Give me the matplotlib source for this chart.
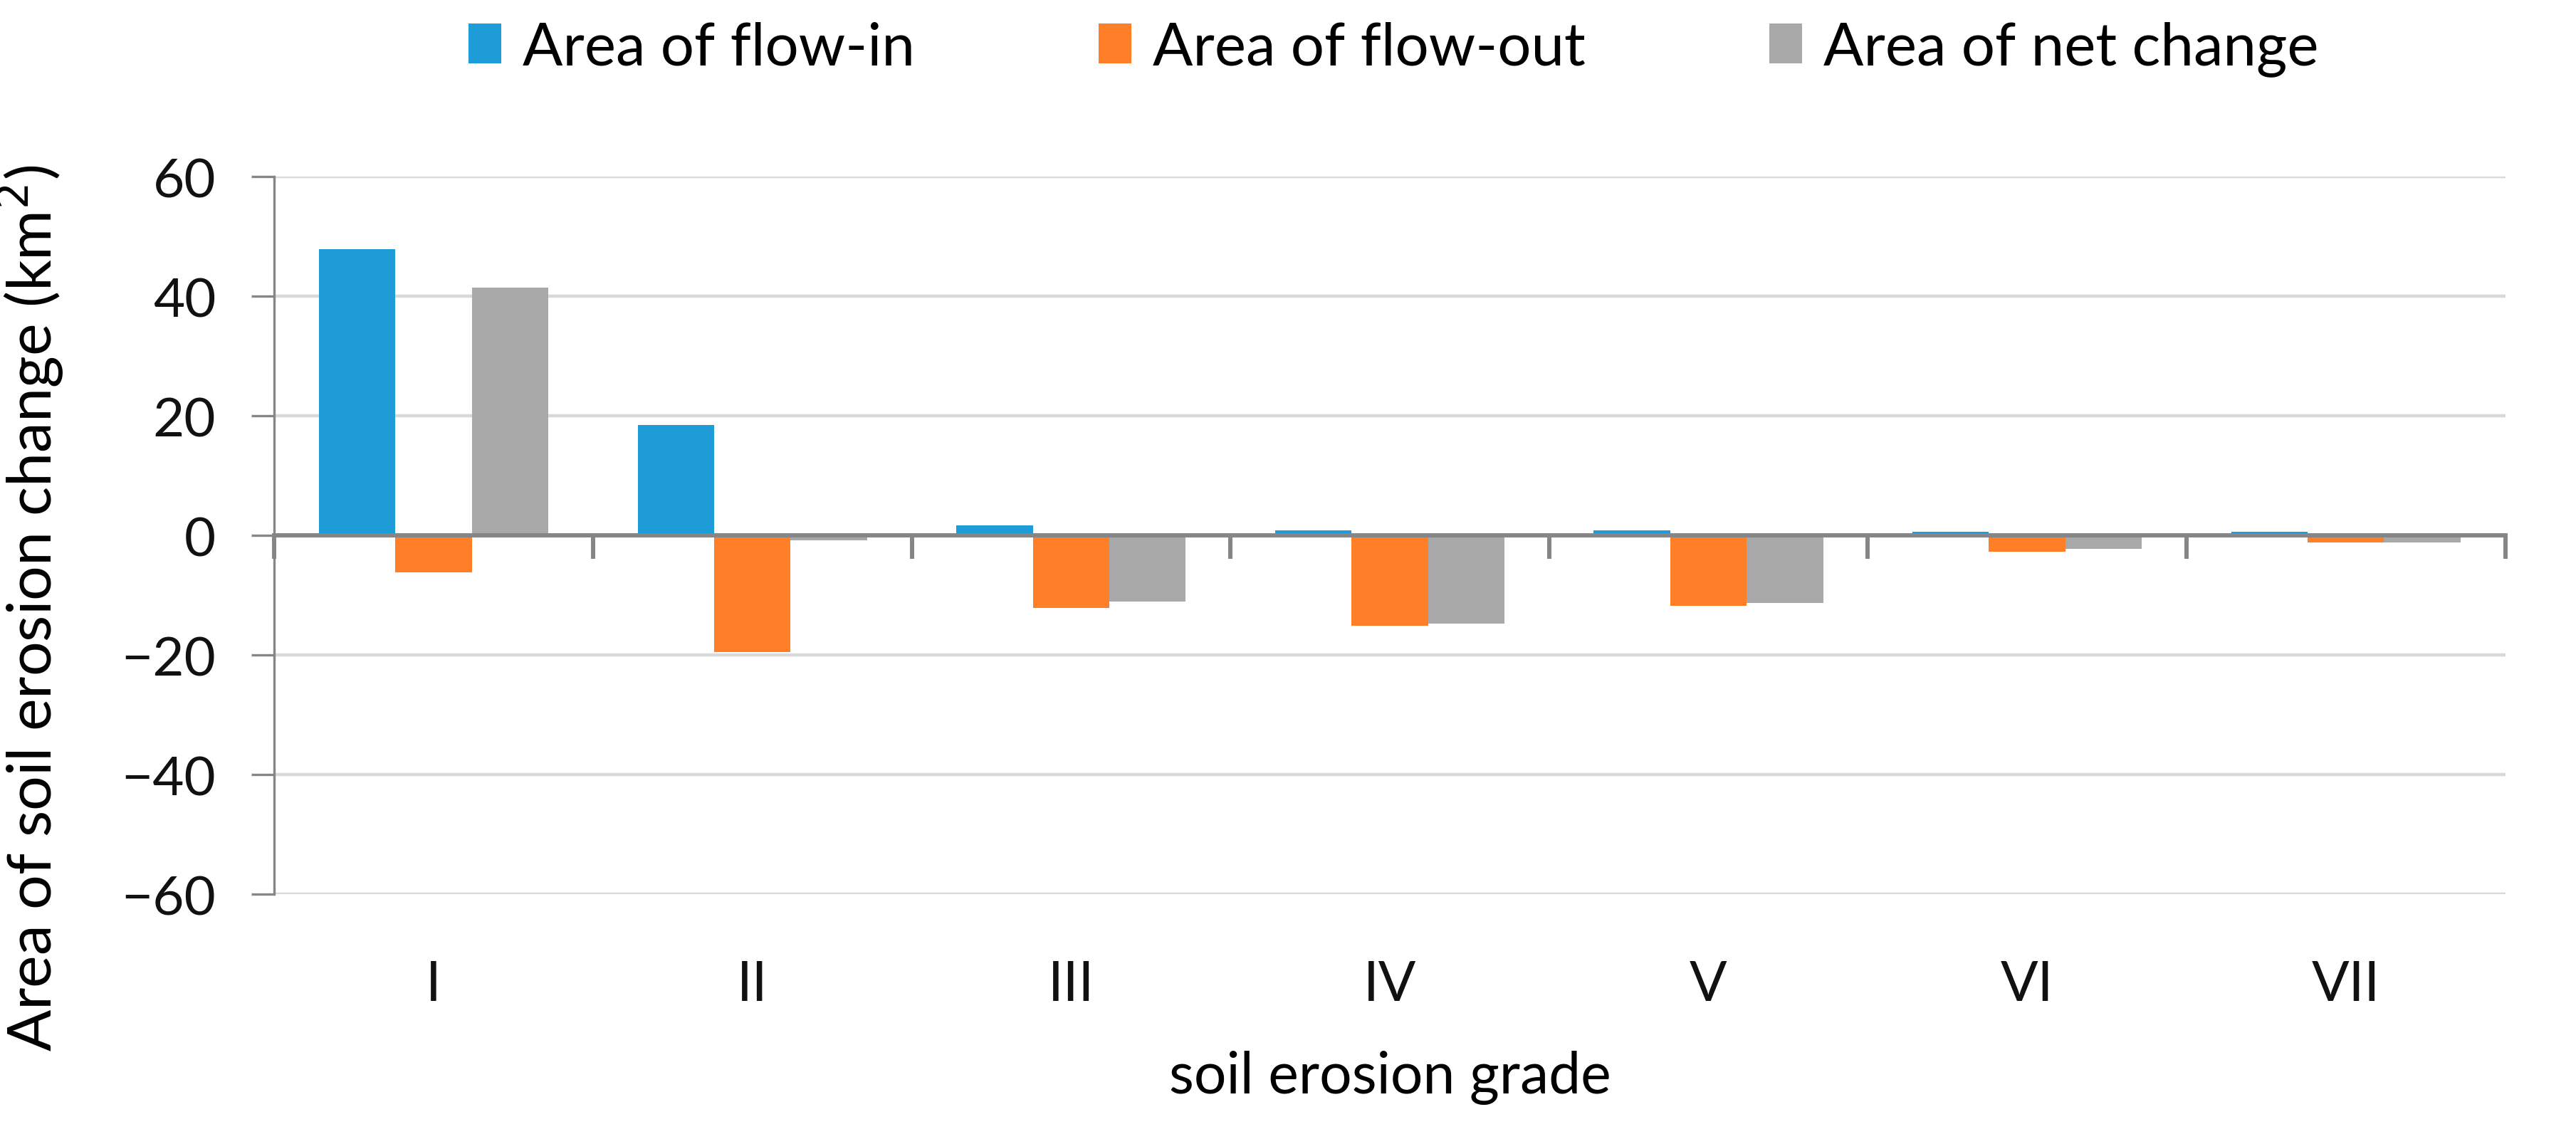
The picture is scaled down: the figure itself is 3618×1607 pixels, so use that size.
import numpy as np
import matplotlib
matplotlib.use("Agg")
import matplotlib.pyplot as plt

plt.rcParams['font.family'] = ['Lato', 'DejaVu Sans']

grades = ['I', 'II', 'III', 'IV', 'V', 'VI', 'VII']
flow_in = [47.9, 18.5, 1.7, 0.9, 0.9, 0.6, 0.6]
flow_out = [-6.1, -19.5, -12.1, -15.1, -11.7, -2.7, -1.1]
net_change = [41.5, -0.8, -11.0, -14.7, -11.3, -2.2, -1.1]
series_names = ['Area of flow-in', 'Area of flow-out', 'Area of net change']
colors = ['#1E9CD8', '#FE7F27', '#A8A8A8']

axis_gray = '#868686'
grid_gray = '#D9D9D9'

fig = plt.figure(figsize=(36.18, 16.08), dpi=100)
ax = fig.add_axes([0.1065, 0.218, 0.866, 0.627])

x = np.arange(len(grades))
w = 0.24
for i, vals in enumerate([flow_in, flow_out, net_change]):
    ax.bar(x + (i - 1) * w, vals, width=w, color=colors[i], label=series_names[i], zorder=3)

ax.set_xlim(-0.5, len(grades) - 0.5)
ax.set_ylim(-60, 60)
ax.set_yticks(np.arange(-60, 61, 20))
ax.yaxis.grid(True, color=grid_gray, linewidth=3.2, zorder=0)

for s in ['top', 'right', 'bottom']:
    ax.spines[s].set_visible(False)
ax.spines['left'].set_color(axis_gray)
ax.spines['left'].set_linewidth(2.4)
ax.tick_params(axis='y', direction='out', length=23, width=2.4, color=axis_gray,
               labelsize=55, pad=36, labelcolor='#111111')

# category labels at the bottom, no tick marks
ax.set_xticks(x)
ax.set_xticklabels(grades)
ax.tick_params(axis='x', length=0, labelsize=56, pad=66, labelcolor='#111111')

# zero line with boundary ticks pointing down
zero_ax = ax.secondary_xaxis(0.5)
zero_ax.set_xticks(np.arange(-0.5, len(grades), 1.0))
zero_ax.set_xticklabels([])
zero_ax.tick_params(direction='in', length=24, width=4.3, color=axis_gray)
for s in ['top', 'bottom']:
    zero_ax.spines[s].set_color(axis_gray)
    zero_ax.spines[s].set_linewidth(4.3)
zero_ax.set_zorder(4)

ax.set_ylabel('Area of soil erosion change (km$^2$)', fontsize=62)
ax.yaxis.set_label_coords(-0.0935, 0.40)
ax.set_xlabel('soil erosion grade', fontsize=58, labelpad=40)

fig.legend(loc='center', bbox_to_anchor=(0.541, 0.957), ncol=3, frameon=False,
           fontsize=60, handlelength=0.55, handleheight=0.65, handletextpad=0.36,
           columnspacing=3.1)

fig.savefig('out.png', dpi=100)
